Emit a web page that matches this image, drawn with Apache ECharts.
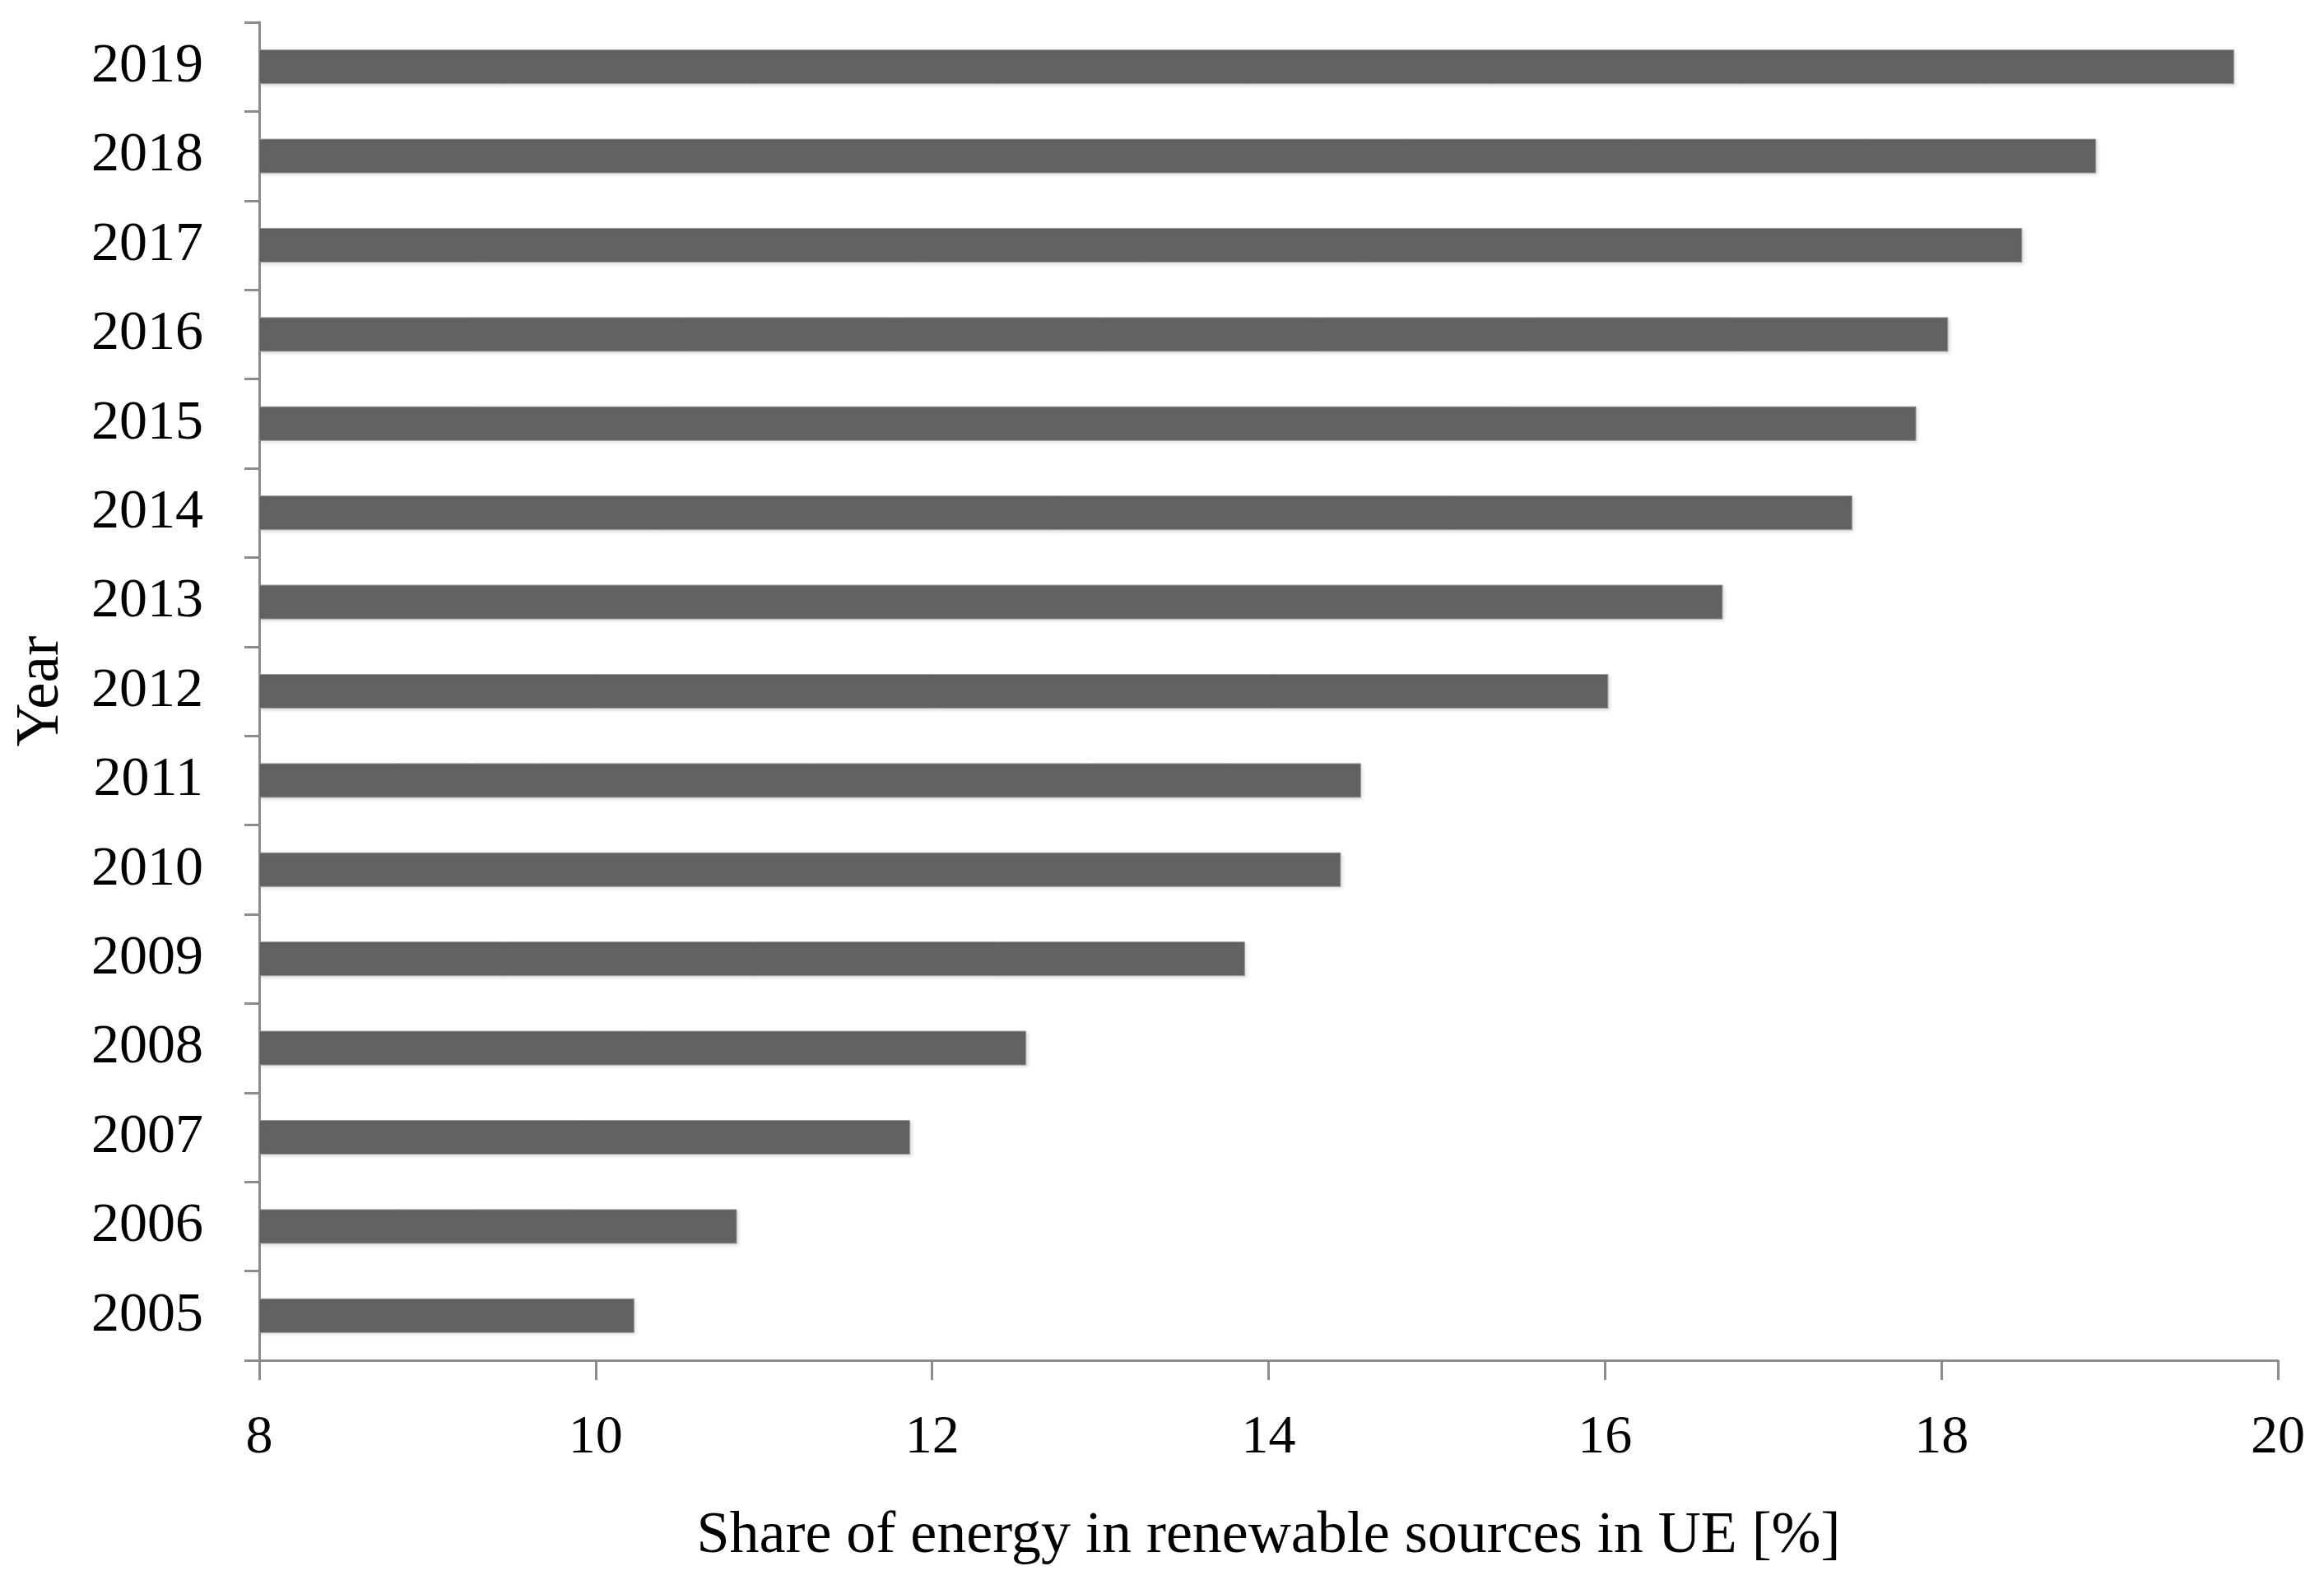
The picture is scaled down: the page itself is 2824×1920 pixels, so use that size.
<!DOCTYPE html>
<html>
<head>
<meta charset="utf-8">
<script src="https://cdn.jsdelivr.net/npm/echarts@6/dist/echarts.min.js"></script>
<style>
html,body{margin:0;padding:0;background:#fff;}
#chart{width:2824px;height:1920px;}
</style>
</head>
<body>
<div id="chart"></div>
<script>
const years = ['2005','2006','2007','2008','2009','2010','2011','2012','2013','2014','2015','2016','2017','2018','2019'];
const shares = [10.23, 10.84, 11.87, 12.56, 13.86, 14.43, 14.55, 16.02, 16.70, 17.47, 17.85, 18.04, 18.48, 18.92, 19.74];
const xTicks = [8, 10, 12, 14, 16, 18, 20];
const xTitle = 'Share of energy in renewable sources in UE [%]';
const yTitle = 'Year';

const font = '"Liberation Serif", "DejaVu Serif", serif';
const axisGrey = '#8c8c8c';
const chart = echarts.init(document.getElementById('chart'), null, {renderer: 'canvas'});
chart.setOption({
  backgroundColor: '#ffffff',
  animation: false,
  textStyle: {fontFamily: font},
  grid: {left: 315, right: 56, top: 27, bottom: 267, containLabel: false},
  xAxis: {
    type: 'value',
    min: xTicks[0],
    max: xTicks[xTicks.length - 1],
    interval: 2,
    name: xTitle,
    nameLocation: 'middle',
    nameGap: 178,
    nameTextStyle: {fontFamily: font, fontSize: 72, color: '#000'},
    axisLine: {show: true, lineStyle: {color: axisGrey, width: 3}},
    axisTick: {show: true, length: 24, lineStyle: {color: axisGrey, width: 3}},
    axisLabel: {fontFamily: font, fontSize: 66, color: '#000', margin: 62},
    splitLine: {show: false}
  },
  yAxis: {
    type: 'category',
    data: years,
    name: yTitle,
    nameLocation: 'middle',
    nameGap: 228,
    nameRotate: 90,
    nameTextStyle: {fontFamily: font, fontSize: 73, color: '#000'},
    axisLine: {show: true, lineStyle: {color: axisGrey, width: 3}},
    axisTick: {show: true, length: 18, lineStyle: {color: axisGrey, width: 3}},
    axisLabel: {fontFamily: font, fontSize: 68, color: '#000', margin: 68},
    splitLine: {show: false}
  },
  series: [{
    type: 'bar',
    data: shares,
    barWidth: 42,
    itemStyle: {
      color: '#626262',
      borderColor: '#9a9a9a',
      borderWidth: 1,
      shadowColor: 'rgba(0,0,0,0.12)',
      shadowBlur: 4,
      shadowOffsetX: 2,
      shadowOffsetY: 2
    }
  }]
});
</script>
</body>
</html>
